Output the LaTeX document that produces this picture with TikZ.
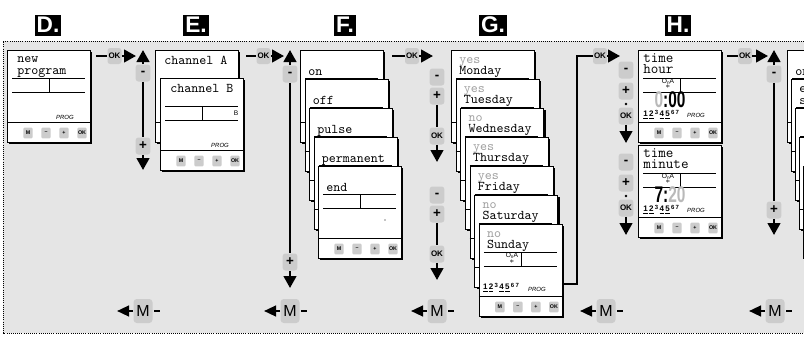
\documentclass[tikz,border=0pt]{standalone}
\usepackage{fontspec}
\setsansfont{Liberation Sans}
\usetikzlibrary{arrows.meta,shadows}

\tikzset{
  lcd/.style={draw, fill=white, line width=0.7pt, anchor=north west, inner sep=0pt,
    minimum width=62.25pt, minimum height=69pt,
    drop shadow={shadow xshift=1.5pt, shadow yshift=-1.5pt, opacity=1, fill=black}},
  lcdtext/.style={anchor=base west, inner sep=0pt, font=\ttfamily\fontsize{10}{10}\selectfont},
  bigtext/.style={lcdtext, font=\ttfamily\fontsize{11}{11}\selectfont},
  lcdkey/.style={fill=gray!40, rounded corners=0.8pt, minimum width=7pt, minimum height=8pt,
    inner sep=0pt, font=\sffamily\bfseries\fontsize{4}{4}\selectfont},
  ctl/.style={fill=gray!40, rounded corners=2pt, minimum width=11pt, minimum height=12.75pt,
    inner sep=0pt, font=\sffamily\bfseries\fontsize{10}{10}\selectfont},
  okfont/.style={font=\sffamily\bfseries\fontsize{6}{6}\selectfont},
  okbtn/.style={ctl, okfont, minimum width=10.5pt, minimum height=12pt},
  mbtn/.style={fill=gray!40, rounded corners=2.5pt, minimum width=14.25pt, minimum height=18pt,
    inner sep=0pt, font=\sffamily\fontsize{12}{12}\selectfont},
  hd/.style={fill=black, text=white, inner sep=1.5pt, minimum height=15.75pt,
    font=\sffamily\bfseries\fontsize{17}{17}\selectfont},
  barline/.style={line width=1.7pt},
  arr/.style={barline, -{Triangle[length=9pt,width=9.5pt]}},
  prog/.style={inner sep=0pt, font=\sffamily\itshape\fontsize{4.5}{5}\selectfont},
  small/.style={inner sep=0pt, font=\sffamily\fontsize{5}{5}\selectfont},
  dayrow/.style={anchor=west, inner sep=0pt, font=\sffamily\bfseries\fontsize{6}{6}\selectfont},
  bigdig/.style={inner sep=0pt, font=\sffamily\bfseries\fontsize{17}{17}\selectfont},
  dotmark/.style={fill, circle, minimum size=2pt, inner sep=0pt},
}

\newcommand{\onA}{O\raisebox{-0.8pt}{\fontsize{3.5}{4}\selectfont n}A}
\newcommand{\wkd}[1]{\raisebox{1.2pt}{\fontsize{4.5}{5}\selectfont#1}}
\newcommand{\weekrow}{\underline{1}\,\underline{2}\,\wkd{3}\,\underline{4}\,\underline{5}\,\wkd{6}\,\wkd{7}}
\newcommand{\sunmark}{\fontsize{6}{6}\selectfont$\ast$}

% card: name, top-left corner, extra content (local px)
\newcommand{\lcdcard}[3]{%
  \node[lcd] (#1) at (#2) {};
  \begin{scope}[shift={(#1.north west)}]
    \draw[line width=0.6pt] (5,28) -- (78,28) (5,42) -- (78,42) (42,28) -- (42,42) (0,72) -- (83,72);
    \foreach \k [count=\j] in {M,--,+,OK}
      \node[lcdkey] (#1-k\j) at ({3+18*\j},83) {\k};
    #3
  \end{scope}}

\begin{document}
\begin{tikzpicture}[x=0.75pt,y=-0.75pt]
  \useasboundingbox (0,0) rectangle (804,336);
  \clip (0,0) rectangle (804,336);
  \fill[gray!20] (3,41) rectangle (804,333);
  \draw[densely dotted, line width=0.6pt] (804,41) -- (3,41) -- (3,333) -- (804,333);

  \node[hd] (hd-d) at (48,25) {D.};
  \node[hd] (hd-e) at (196,25) {E.};
  \node[hd] (hd-f) at (345,25) {F.};
  \node[hd] (hd-g) at (493,25) {G.};
  \node[hd] (hd-h) at (678,25) {H.};

  % D
  \lcdcard{d1}{7,50}{
    \node[lcdtext] (d1-l1) at (10,12) {new};
    \node[lcdtext] (d1-l2) at (10,24) {program};
    \node[prog] (d1-prog) at (58,67) {PROG};}

  % E
  \lcdcard{e1}{155,50}{\node[lcdtext] (e1-txt) at (9,14) {channel A};}
  \lcdcard{e2}{160,78}{
    \node[lcdtext] (e2-txt) at (10,14) {channel B};
    \node[small] (e2-b) at (76,35) {B};
    \node[prog] (e2-prog) at (60,67) {PROG};}

  % F
  \foreach \opt [count=\i from 0] in {on,off,pulse,permanent,end} {
    \lcdcard{f\i}{300+4.5*\i,50+29*\i}{\node[lcdtext] (f\i-txt) at (8,25) {\opt};}
  }
  \begin{scope}[shift={(f4.north west)}]
    \node[dotmark, minimum size=1pt] (f4-dot) at (67,54) {};
  \end{scope}

  % G
  \foreach \st/\day [count=\i from 0] in {yes/Monday,yes/Tuesday,no/Wednesday,yes/Thursday,yes/Friday,no/Saturday,no/Sunday} {
    \lcdcard{g\i}{451+4.65*\i,50+29*\i}{
      \node[lcdtext, text=gray!75] (g\i-st) at (8,13) {\st};
      \node[lcdtext] (g\i-day) at (8,24) {\day};}
  }
  \begin{scope}[shift={(g6.north west)}]
    \node[small] (g6-on) at (33,32) {\onA};
    \node[inner sep=0pt] (g6-sun) at (33,38) {\sunmark};
    \node[dayrow] (g6-days) at (4,64) {\weekrow};
    \node[prog] (g6-prog) at (58,65) {PROG};
  \end{scope}

  % H
  \lcdcard{h1}{638,50}{
    \node[bigtext] (h1-l1) at (5,12) {time};
    \node[bigtext] (h1-l2) at (5,23) {hour};
    \node[small] (h1-on) at (30,32) {\onA};
    \node[inner sep=0pt] (h1-sun) at (30,37) {\sunmark};
    \node[bigdig] (h1-time) at (32,50) {\scalebox{0.68}[1]{\textcolor{gray!55}{0}:00}};
    \node[dayrow] (h1-days) at (5,65) {\weekrow};
    \node[prog] (h1-prog) at (58,65) {PROG};}
  \lcdcard{h2}{638,145}{
    \node[bigtext] (h2-l1) at (5,12) {time};
    \node[bigtext] (h2-l2) at (5,23) {minute};
    \node[small] (h2-on) at (30,32) {\onA};
    \node[inner sep=0pt] (h2-sun) at (30,37) {\sunmark};
    \node[bigdig] (h2-time) at (32,50) {\scalebox{0.68}[1]{7:\textcolor{gray!55}{20}}};
    \node[dayrow] (h2-days) at (5,65) {\weekrow};
    \node[prog] (h2-prog) at (58,65) {PROG};}

  % next step, cut by the edge
  \lcdcard{r0}{787,50}{\node[lcdtext] (r0-txt) at (8,25) {on};}
  \lcdcard{r1}{791,79}{
    \node[lcdtext] (r1-l1) at (8,13) {e};
    \node[lcdtext] (r1-l2) at (8,25) {s};}
  \foreach \i in {2,3,4} {
    \lcdcard{r\i}{787+4*\i,50+29*\i}{}
  }

  % OK arrows
  \node[okbtn] (ok-d) at (114.5,56) {OK};
  \coordinate (d-out) at (96,56);
  \coordinate (d-in) at (136,56);
  \draw[barline] (d-out) -- (ok-d);
  \draw[arr] (ok-d) -- (d-in);

  \node[okbtn] (ok-e) at (263.5,56) {OK};
  \coordinate (e-out) at (246,56);
  \coordinate (e-in) at (284,56);
  \draw[barline] (e-out) -- (ok-e);
  \draw[arr] (ok-e) -- (e-in);

  \node[okbtn] (ok-f) at (412,56) {OK};
  \coordinate (f-out) at (392,56);
  \coordinate (f-in) at (433,56);
  \draw[barline] (f-out) -- (ok-f);
  \draw[arr] (ok-f) -- (f-in);

  \node[okbtn] (ok-g) at (600,56) {OK};
  \coordinate (g-out) at (562,284);
  \coordinate (g-bend) at (577,56);
  \coordinate (g-in) at (620,56);
  \draw[barline] (g-out) -| (g-bend) -- (ok-g);
  \draw[arr] (ok-g) -- (g-in);

  \node[okbtn] (ok-h) at (745,56) {OK};
  \coordinate (h-out) at (727,56);
  \coordinate (h-in) at (768,56);
  \draw[barline] (h-out) -- (ok-h);
  \draw[arr] (ok-h) -- (h-in);

  % up / down selectors
  \foreach \n/\cx/\ym/\yp/\yd in {d/143/73/146/170,f/290/74/262/288,r/774/74/210/235} {
    \node[ctl] (\n-minus) at (\cx,\ym) {-};
    \node[ctl] (\n-plus) at (\cx,\yp) {+};
    \coordinate (\n-up) at (\cx,50);
    \coordinate (\n-down) at (\cx,\yd);
    \draw[arr] (\n-minus) -- (\n-up);
    \draw[barline] (\n-minus) -- (\n-plus);
    \draw[arr] (\n-plus) -- (\n-down);
  }

  % day selectors
  \foreach \i/\y in {1/0,2/118} {
    \node[ctl] (g-minus\i) at (437,77+\y) {-};
    \node[ctl] (g-plus\i) at (437,96+\y) {+};
    \node[ctl, okfont] (g-ok\i) at (437,136+\y) {OK};
    \coordinate (g-down\i) at (437,162+\y);
    \draw[barline] (g-plus\i) -- (g-ok\i);
    \draw[arr] (g-ok\i) -- (g-down\i);
  }

  % time selectors
  \foreach \i/\y in {1/0,2/92} {
    \node[ctl] (h-minus\i) at (626,70+\y) {-};
    \node[ctl] (h-plus\i) at (626,91+\y) {+};
    \node[dotmark] (h-dot\i) at (626,104+\y) {};
    \node[ctl, okfont] (h-ok\i) at (626,116+\y) {OK};
    \coordinate (h-down\i) at (626,143+\y);
    \draw[arr] (h-ok\i) -- (h-down\i);
  }

  % back with M
  \foreach \mx [count=\i] in {143,290,437,606,775} {
    \node[mbtn] (m\i) at (\mx,311) {M};
    \coordinate (m\i-tip) at (\mx-26,311);
    \draw[arr, -{Triangle[length=9pt,width=8pt]}] (m\i) -- (m\i-tip);
    \draw[barline, line width=1.5pt] ([xshift=1pt]m\i.east) -- +(6,0);
  }
\end{tikzpicture}
\end{document}
